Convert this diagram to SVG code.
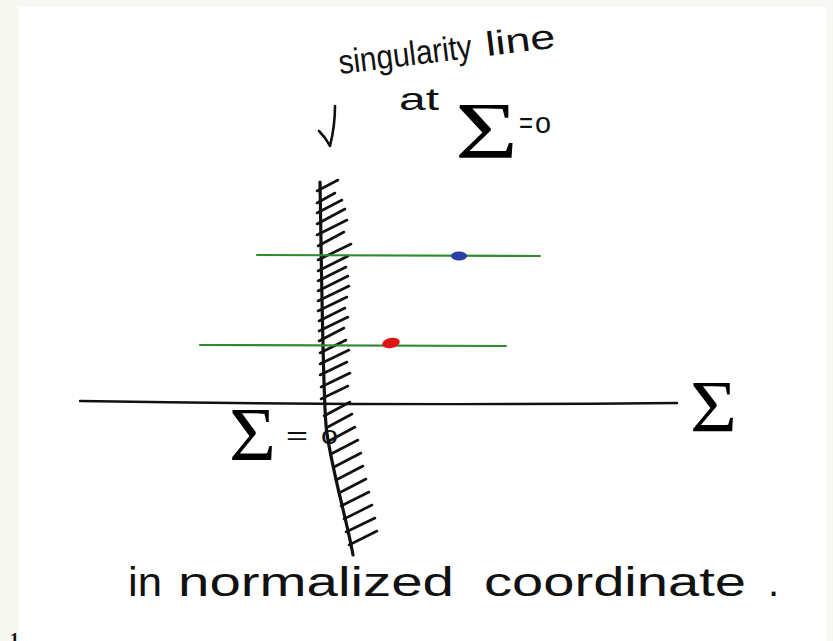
<svg xmlns="http://www.w3.org/2000/svg" width="833" height="641" viewBox="0 0 833 641">
<style>
.ink{fill:none;stroke:#111;stroke-linecap:round;stroke-linejoin:round}
.hand{font-family:"Liberation Sans","DejaVu Sans",sans-serif;fill:#111}
.sig{font-family:"Liberation Serif","DejaVu Serif",serif;fill:#000}
.green{fill:none;stroke:#2e8b2e;stroke-width:2.2;stroke-linecap:round}
.hatch line{stroke:#111;stroke-width:2.6;stroke-linecap:round}
</style>
<rect x="0" y="0" width="833" height="641" fill="#f8f8f2"/>
<rect x="19" y="7" width="807" height="634" fill="#ffffff"/>

<g id="title">
  <text class="hand" font-size="34" transform="rotate(-7 340 74)"><tspan x="340" y="74" textLength="134" lengthAdjust="spacingAndGlyphs">singularity</tspan><tspan x="488" y="74" textLength="70" lengthAdjust="spacingAndGlyphs">line</tspan></text>
  <text class="hand" font-size="32" x="399" y="110" textLength="40" lengthAdjust="spacingAndGlyphs">at</text>
  <text class="sig" font-size="80" x="455" y="158" textLength="63" lengthAdjust="spacingAndGlyphs">Σ</text>
  <text class="hand" font-size="30"><tspan x="519" y="133" textLength="14" lengthAdjust="spacingAndGlyphs">=</tspan><tspan x="535" y="133" textLength="16" lengthAdjust="spacingAndGlyphs">o</tspan></text>
  <path class="ink" stroke-width="2.6" d="M335,106 C335,120 333,134 330,146 M330,146 C327,140 323,135 319,131"/>
</g>

<g id="singularity-line">
  <path class="ink" stroke-width="3.2" d="M320,182 C322,300 323,390 326,425 S347,520 353,555"/>
  <g class="hatch">
    <line x1="317" y1="191" x2="338" y2="180"/>
    <line x1="317" y1="203" x2="335" y2="193"/>
    <line x1="317" y1="213" x2="342" y2="200"/>
    <line x1="317" y1="224" x2="345" y2="209"/>
    <line x1="317" y1="235" x2="347" y2="220"/>
    <line x1="318" y1="246" x2="344" y2="232"/>
    <line x1="318" y1="260" x2="351" y2="244"/>
    <line x1="318" y1="271" x2="348" y2="256"/>
    <line x1="318" y1="281" x2="346" y2="267"/>
    <line x1="318" y1="291" x2="348" y2="276"/>
    <line x1="318" y1="301" x2="349" y2="286"/>
    <line x1="318" y1="311" x2="347" y2="297"/>
    <line x1="319" y1="321" x2="345" y2="308"/>
    <line x1="319" y1="331" x2="348" y2="317"/>
    <line x1="319" y1="341" x2="344" y2="328"/>
    <line x1="320" y1="353" x2="346" y2="340"/>
    <line x1="320" y1="364" x2="349" y2="350"/>
    <line x1="320" y1="375" x2="347" y2="362"/>
    <line x1="321" y1="387" x2="350" y2="373"/>
    <line x1="321" y1="399" x2="348" y2="386"/>
    <line x1="324" y1="416" x2="350" y2="402"/>
    <line x1="326" y1="428" x2="352" y2="414"/>
    <line x1="329" y1="441" x2="355" y2="427"/>
    <line x1="331" y1="454" x2="358" y2="440"/>
    <line x1="334" y1="467" x2="361" y2="453"/>
    <line x1="336" y1="480" x2="363" y2="466"/>
    <line x1="339" y1="493" x2="366" y2="479"/>
    <line x1="341" y1="506" x2="369" y2="492"/>
    <line x1="344" y1="519" x2="372" y2="505"/>
    <line x1="346" y1="532" x2="375" y2="518"/>
    <line x1="349" y1="545" x2="377" y2="531"/>
  </g>
</g>

<g id="axis">
  <path class="ink" stroke-width="2.4" d="M80,401 Q380,406 677,403"/>
  <text class="sig" font-size="74" x="690" y="432" textLength="47" lengthAdjust="spacingAndGlyphs">Σ</text>
</g>

<g id="origin-label">
  <text class="sig" font-size="76" x="229" y="460" textLength="47" lengthAdjust="spacingAndGlyphs">Σ</text>
  <text class="hand" font-size="26"><tspan x="286" y="444" textLength="22" lengthAdjust="spacingAndGlyphs">=</tspan><tspan x="321" y="444" textLength="17" lengthAdjust="spacingAndGlyphs">o</tspan></text>
</g>

<g id="upper-line">
  <path class="green" d="M257,255 L540,256"/>
  <ellipse cx="459" cy="256" rx="8" ry="4.5" fill="#2b3fa6"/>
</g>

<g id="lower-line">
  <path class="green" d="M200,345 L506,346"/>
  <ellipse cx="391" cy="343" rx="9" ry="5" fill="#e01414" transform="rotate(-12 391 343)"/>
</g>

<g id="caption">
  <text class="hand" font-size="40"><tspan x="128" y="596" textLength="34" lengthAdjust="spacingAndGlyphs">in</tspan><tspan x="178" y="596" textLength="276" lengthAdjust="spacingAndGlyphs">normalized</tspan><tspan x="484" y="596" textLength="262" lengthAdjust="spacingAndGlyphs">coordinate</tspan><tspan x="768" y="596">.</tspan></text>
</g>

<text x="10" y="646" font-family="Liberation Serif, serif" font-size="18" font-weight="bold" fill="#111">1</text>
</svg>
